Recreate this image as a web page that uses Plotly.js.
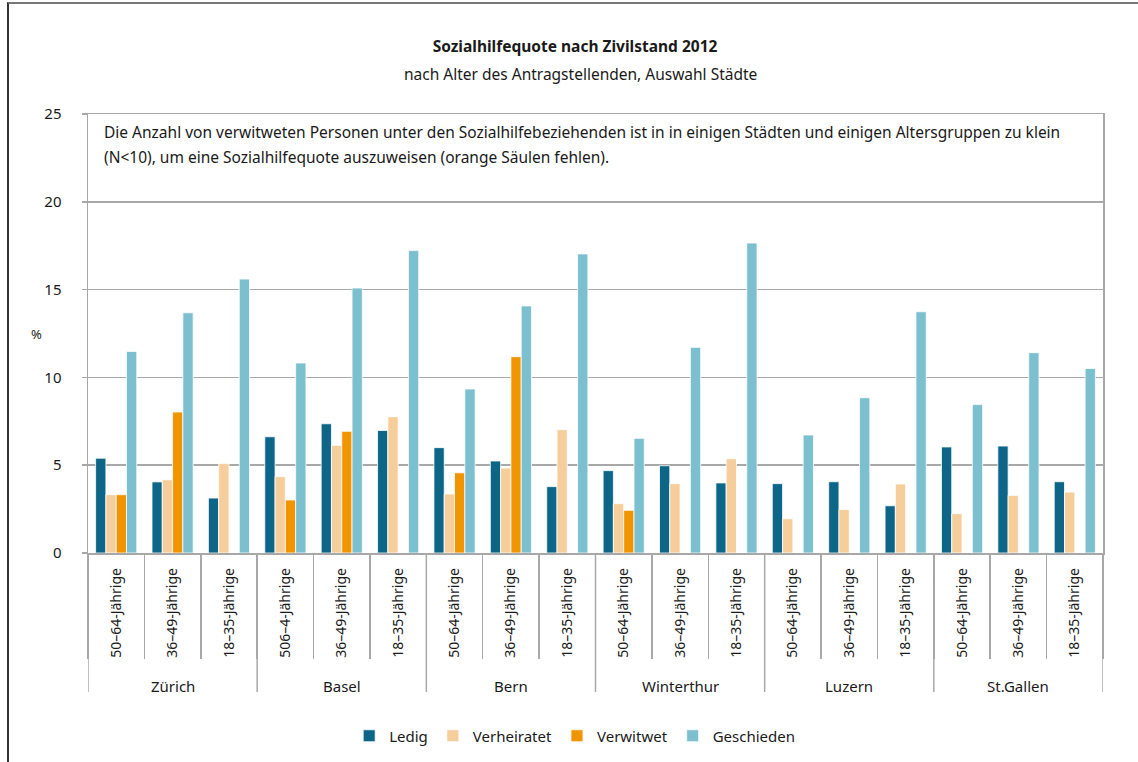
<!DOCTYPE html>
<html>
<head>
<meta charset="utf-8">
<script src="https://cdn.plot.ly/plotly-3.0.1.min.js"></script>
<style>
  html, body { margin: 0; padding: 0; background: #fff; }
  #wrap { position: relative; width: 1138px; height: 762px; overflow: hidden; }
  #frame { position: absolute; left: 7px; top: 2px; width: 1200px; height: 800px;
           border-left: 2px solid #333; border-top: 2px solid #777; pointer-events: none; }
  #chart { position: absolute; left: 0; top: 0; width: 1138px; height: 762px; }
</style>
</head>
<body>
<div id="wrap">
  <div id="chart"></div>
  <div id="frame"></div>
</div>
<script>
// Categories
const cities = ["Zürich","Zürich","Zürich","Basel","Basel","Basel","Bern","Bern","Bern",
                "Winterthur","Winterthur","Winterthur","Luzern","Luzern","Luzern",
                "St.Gallen","St.Gallen","St.Gallen"];
const ageGroups = ["50–64-Jährige","36–49-Jährige","18–35-Jährige",
                   "506–4-Jährige","36–49-Jährige","18–35-Jährige",
                   "50–64-Jährige","36–49-Jährige","18–35-Jährige",
                   "50–64-Jährige","36–49-Jährige","18–35-Jährige",
                   "50–64-Jährige","36–49-Jährige","18–35-Jährige",
                   "50–64-Jährige","36–49-Jährige","18–35-Jährige"];

// Series values (%)
const ledig       = [5.4, 4.05, 3.13, 6.62, 7.36, 6.98, 6.0, 5.24, 3.78, 4.69, 4.97, 3.99, 3.95, 4.06, 2.69, 6.04, 6.09, 4.06];
const verheiratet = [3.32, 4.17, 5.09, 4.35, 6.13, 7.76, 3.36, 4.84, 7.02, 2.81, 3.95, 5.37, 1.95, 2.48, 3.93, 2.24, 3.28, 3.47];
const verwitwet   = [3.32, 8.03, null, 3.02, 6.93, null, 4.57, 11.18, null, 2.43, null, null, null, null, null, null, null, null];
const geschieden  = [11.48, 13.68, 15.6, 10.82, 15.09, 17.22, 9.34, 14.07, 17.03, 6.53, 11.71, 17.65, 6.72, 8.84, 13.74, 8.45, 11.41, 10.51];

const seriesNames = ["Ledig","Verheiratet","Verwitwet","Geschieden"];
const seriesColors = ["#0d6688","#f6ce9c","#f09400","#7cbfcf"];
const seriesValues = [ledig, verheiratet, verwitwet, geschieden];

const noteLine1 = "Die Anzahl von verwitweten Personen unter den Sozialhilfebeziehenden ist in in einigen Städten und einigen Altersgruppen zu klein";
const noteLine2 = "(N<10), um eine Sozialhilfequote auszuweisen (orange Säulen fehlen).";

const FONT = "Noto Sans, sans-serif";
const TXT = "#1a1a1a";
const LINE = "#a8a8a8";

// positions along the category axis (index of each category)
const idx = ageGroups.map((_, i) => i);
const boundaries = idx.map(i => i - 0.5).concat([idx.length - 0.5]);

// city groups (derived from the categories)
const cityGroups = [];
cities.forEach((c, i) => {
  const last = cityGroups[cityGroups.length - 1];
  if (last && last.name === c) last.end = i; else cityGroups.push({ name: c, start: i, end: i });
});

const traces = seriesNames.map((n, i) => ({
  type: "bar",
  name: n,
  x: idx,
  y: seriesValues[i],
  marker: { color: seriesColors[i], line: { color: "#ffffff", width: 0.8 } },
  hoverinfo: "y+name"
}));

// plot area: left 88, right 1103, top 114, bottom 553
const plotH = 439, plotW = 1015;
const py = (pix) => (553 - pix) / plotH;   // pixel row -> paper y
const px = (pix) => (pix - 88) / plotW;    // pixel col -> paper x

const shapes = [];
cityGroups.forEach(g => {
  shapes.push({ type: "line", xref: "x", yref: "paper", x0: g.start - 0.5, x1: g.start - 0.5,
                y0: 0, y1: py(692), line: { color: LINE, width: 1.5 } });
});
shapes.push({ type: "line", xref: "x", yref: "paper", x0: idx.length - 0.5, x1: idx.length - 0.5,
              y0: 0, y1: py(692), line: { color: LINE, width: 1.5 } });

const annotations = [
  { text: "nach Alter des Antragstellenden, Auswahl Städte", xref: "paper", yref: "paper",
    x: px(580), y: py(74), xanchor: "center", yanchor: "middle",
    showarrow: false, font: { family: FONT, size: 15.5, color: TXT } },
  { text: noteLine1, xref: "paper", yref: "paper", x: px(102), y: py(132),
    xanchor: "left", yanchor: "middle", showarrow: false,
    font: { family: FONT, size: 15.5, color: TXT } },
  { text: noteLine2, xref: "paper", yref: "paper", x: px(102), y: py(157),
    xanchor: "left", yanchor: "middle", showarrow: false,
    font: { family: FONT, size: 15.5, color: TXT } },
  { text: "%", xref: "paper", yref: "y", x: px(36), y: 12.5,
    xanchor: "center", yanchor: "middle", showarrow: false,
    font: { family: FONT, size: 13, color: TXT } }
];
cityGroups.forEach(g => {
  annotations.push({ text: g.name, xref: "x", yref: "paper", x: (g.start + g.end) / 2, y: py(686),
    xanchor: "center", yanchor: "middle", showarrow: false,
    font: { family: FONT, size: 15, color: TXT } });
});

const layout = {
  width: 1138, height: 762,
  paper_bgcolor: "#ffffff", plot_bgcolor: "#ffffff",
  margin: { l: 88, r: 35, t: 114, b: 209, autoexpand: false },
  font: { family: FONT, size: 15, color: TXT },
  barmode: "group",
  bargap: 0.27,
  bargroupgap: 0,
  showlegend: true,
  legend: {
    orientation: "h", x: 0.505, xanchor: "center", xref: "container",
    y: 1 - 736/762, yref: "container", yanchor: "middle",
    font: { family: FONT, size: 15, color: TXT },
    itemwidth: 30, traceorder: "normal"
  },
  title: {
    text: "<b>Sozialhilfequote nach Zivilstand 2012</b>",
    x: 575/1138, xref: "container", xanchor: "center",
    y: 1 - 47/762, yref: "container", yanchor: "middle",
    font: { family: FONT, size: 15.5, color: TXT }
  },
  xaxis: {
    type: "linear",
    range: [-0.5, idx.length - 0.5],
    tickmode: "array", tickvals: idx, ticktext: ageGroups,
    tickangle: -90,
    tickfont: { family: FONT, size: 14, color: TXT },
    ticks: "", ticklabelstandoff: 8,
    minor: { tickmode: "array", tickvals: boundaries, ticks: "outside", ticklen: 104,
             tickcolor: LINE, tickwidth: 1.5, showgrid: false },
    showline: true, linecolor: LINE, linewidth: 1.5, mirror: true,
    showgrid: false, zeroline: false, fixedrange: true
  },
  yaxis: {
    range: [0, 25], dtick: 5, tick0: 0,
    showgrid: true, gridcolor: LINE, gridwidth: 1.5,
    showline: true, linecolor: LINE, linewidth: 1.5, mirror: true,
    ticks: "outside", ticklen: 5, tickcolor: LINE, tickwidth: 1.5,
    tickfont: { family: FONT, size: 15, color: TXT },
    ticklabelstandoff: 17,
    zeroline: false
  },
  shapes: shapes,
  annotations: annotations
};

Plotly.newPlot("chart", traces, layout, { displayModeBar: false, staticPlot: true });
</script>
</body>
</html>
